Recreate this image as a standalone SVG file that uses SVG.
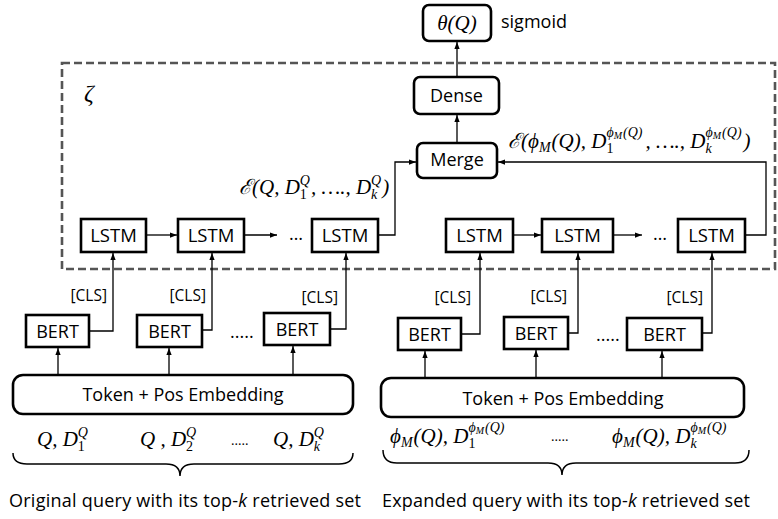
<svg xmlns="http://www.w3.org/2000/svg" width="778" height="519" viewBox="0 0 778 519">
<defs>
<marker id="ah" viewBox="0 0 8 6" refX="8" refY="3" markerWidth="7" markerHeight="5.5" markerUnits="userSpaceOnUse" orient="auto">
<path d="M0,0 L8,3 L0,6 Z" fill="#000"/>
</marker>
<style>
.box{fill:#fff;stroke:#000;stroke-width:2.6}
.t{font-family:"Open Sans","Liberation Sans",sans-serif;font-size:18px;fill:#000}
.tc{text-anchor:middle}
.s{font-size:15.5px}
.l{font-size:18.5px}
.m{font-family:"Liberation Serif","DejaVu Serif",serif;font-style:italic;font-size:21px;fill:#000}
.sm{font-size:14px}
.xs{font-size:10px}
.n{font-style:normal}
.up{font-style:normal;font-size:14px}
.c{fill:none;stroke:#000;stroke-width:1.3;marker-end:url(#ah)}
.dash{fill:none;stroke:#555;stroke-width:2.6;stroke-dasharray:8 4}
.br{fill:none;stroke:#000;stroke-width:1.5}
</style>
</defs>
<rect width="778" height="519" fill="#fff"/>

<rect id="zeta-box" class="dash" x="62" y="63" width="713" height="206"/>
<text class="m" x="84" y="101" style="font-size:24px">ζ</text>

<g id="connectors">
<line class="c" x1="457" y1="77" x2="457" y2="42"/>
<line class="c" x1="457" y1="143" x2="457" y2="115"/>
<path class="c" d="M378,235 H395 V162 H416"/>
<path class="c" d="M745,235 H766 V162 H498"/>
<line class="c" x1="146" y1="235" x2="177" y2="235"/>
<line class="c" x1="244" y1="235" x2="277" y2="235"/>
<line class="c" x1="513" y1="235" x2="541" y2="235"/>
<line class="c" x1="613" y1="235" x2="642" y2="235"/>
<path class="c" d="M89,331 H113 V253"/>
<path class="c" d="M202,330 H212 V253"/>
<path class="c" d="M330,329 H346 V253"/>
<path class="c" d="M461,334 H480 V253"/>
<path class="c" d="M568,333 H578 V253"/>
<path class="c" d="M702,333 H712 V253"/>
<line class="c" x1="58" y1="375" x2="58" y2="348"/>
<line class="c" x1="169" y1="375" x2="169" y2="348"/>
<line class="c" x1="293" y1="375" x2="293" y2="346"/>
<line class="c" x1="425" y1="378" x2="425" y2="351"/>
<line class="c" x1="536" y1="378" x2="536" y2="350"/>
<line class="c" x1="662" y1="378" x2="662" y2="351"/>
</g>

<g id="theta">
<rect class="box" x="423" y="5" width="68" height="36" rx="6"/>
<text class="m tc" x="457" y="30">θ(Q)</text>
</g>
<text id="sigmoid" class="t" x="501" y="28">sigmoid</text>

<g id="dense">
<rect class="box" x="414" y="77" width="85" height="37" rx="6"/>
<text class="t tc" x="456.5" y="102">Dense</text>
</g>
<g id="merge">
<rect class="box" x="417" y="143" width="80" height="35" rx="6"/>
<text class="t tc" x="457" y="166">Merge</text>
</g>

<g id="lstm1"><rect class="box" x="81" y="219" width="65" height="33"/><text class="t l tc" x="113.5" y="242">LSTM</text></g>
<g id="lstm2"><rect class="box" x="178" y="219" width="66" height="33"/><text class="t l tc" x="211" y="242">LSTM</text></g>
<text class="t" x="289" y="240">…</text>
<g id="lstm3"><rect class="box" x="312" y="219" width="66" height="33"/><text class="t l tc" x="345" y="242">LSTM</text></g>
<g id="lstm4"><rect class="box" x="446" y="219" width="67" height="33"/><text class="t l tc" x="479.5" y="242">LSTM</text></g>
<g id="lstm5"><rect class="box" x="542" y="219" width="71" height="33"/><text class="t l tc" x="577.5" y="242">LSTM</text></g>
<text class="t" x="653" y="240">…</text>
<g id="lstm6"><rect class="box" x="678" y="219" width="67" height="33"/><text class="t l tc" x="711.5" y="242">LSTM</text></g>

<text id="lbl-left" class="m" x="239" y="194">ℰ(Q, D<tspan class="sm n" dy="5">1</tspan><tspan class="sm" dx="-7" dy="-14">Q</tspan><tspan dx="1" dy="9">, …., D</tspan><tspan class="sm" dy="5">k</tspan><tspan class="sm" dx="-6.2" dy="-14">Q</tspan><tspan dx="1" dy="9">)</tspan></text>

<text id="lbl-right" class="m" x="508" y="148">ℰ(ϕ<tspan class="sm" dy="4">M</tspan><tspan dx="1" dy="-4">(Q), D</tspan><tspan class="sm n" dy="5">1</tspan><tspan class="sm" dx="-7" dy="-16">ϕ</tspan><tspan class="xs" dy="2">M</tspan><tspan class="sm" dx="1" dy="-2">(Q)</tspan><tspan dx="3" dy="11">, …., D</tspan><tspan class="sm" dy="5">k</tspan><tspan class="sm" dx="-6.2" dy="-16">ϕ</tspan><tspan class="xs" dy="2">M</tspan><tspan class="sm" dx="1" dy="-2">(Q)</tspan><tspan dx="2" dy="11">)</tspan></text>

<text class="t s" x="107" y="301" text-anchor="end">[CLS]</text>
<text class="t s" x="206" y="301" text-anchor="end">[CLS]</text>
<text class="t s" x="338" y="303" text-anchor="end">[CLS]</text>
<text class="t s" x="471" y="303" text-anchor="end">[CLS]</text>
<text class="t s" x="567" y="302" text-anchor="end">[CLS]</text>
<text class="t s" x="703" y="303" text-anchor="end">[CLS]</text>

<g id="bert1"><rect class="box" x="26" y="315" width="63" height="32"/><text class="t tc" x="57.5" y="338">BERT</text></g>
<g id="bert2"><rect class="box" x="137" y="315" width="65" height="32"/><text class="t tc" x="169.5" y="338">BERT</text></g>
<text class="t" x="230" y="338">.....</text>
<g id="bert3"><rect class="box" x="264" y="313" width="66" height="32"/><text class="t tc" x="297" y="336">BERT</text></g>
<g id="bert4"><rect class="box" x="398" y="318" width="63" height="32"/><text class="t tc" x="429.5" y="341">BERT</text></g>
<g id="bert5"><rect class="box" x="504" y="317" width="64" height="32"/><text class="t tc" x="536" y="340">BERT</text></g>
<text class="t" x="596" y="341">.....</text>
<g id="bert6"><rect class="box" x="627" y="318" width="75" height="32"/><text class="t tc" x="664.5" y="341">BERT</text></g>

<g id="emb-left"><rect class="box" x="13" y="375" width="340" height="39" rx="10"/><text class="t tc" x="183" y="401">Token + Pos Embedding</text></g>
<g id="emb-right"><rect class="box" x="381" y="378" width="363" height="39" rx="10"/><text class="t tc" x="563" y="405">Token + Pos Embedding</text></g>

<text id="in-left" class="m" y="446"><tspan x="37" y="446">Q, D</tspan><tspan class="sm n" y="451">1</tspan><tspan class="sm" dx="-7" y="437">Q</tspan><tspan x="140" y="446">Q , D</tspan><tspan class="sm n" y="451">2</tspan><tspan class="sm" dx="-7" y="437">Q</tspan><tspan class="up" x="231" y="445">.....</tspan><tspan x="273" y="446">Q, D</tspan><tspan class="sm" y="451">k</tspan><tspan class="sm" dx="-6.2" y="437">Q</tspan></text>

<text id="in-right" class="m" y="443"><tspan x="390" y="443">ϕ</tspan><tspan class="sm" y="447">M</tspan><tspan dx="1" y="443">(Q), D</tspan><tspan class="sm n" y="448">1</tspan><tspan class="sm" dx="-7" y="432">ϕ</tspan><tspan class="xs" y="434">M</tspan><tspan class="sm" dx="1" y="432">(Q)</tspan><tspan class="up" x="551" y="441">.....</tspan><tspan x="612" y="443">ϕ</tspan><tspan class="sm" y="447">M</tspan><tspan dx="1" y="443">(Q), D</tspan><tspan class="sm" y="448">k</tspan><tspan class="sm" dx="-6.2" y="432">ϕ</tspan><tspan class="xs" y="434">M</tspan><tspan class="sm" dx="1" y="432">(Q)</tspan></text>

<path class="br" d="M13,453 Q13,464 27,464 H166 Q180,464 180,476 Q180,464 194,464 H339 Q353,464 353,453"/>
<path class="br" d="M383,450 Q383,463 397,463 H548 Q562,463 562,475 Q562,463 576,463 H735 Q749,463 749,450"/>

<text class="t" x="9" y="507" textLength="352" lengthAdjust="spacing">Original query with its top-<tspan font-style="italic">k</tspan> retrieved set</text>
<text class="t" x="382" y="507" textLength="368" lengthAdjust="spacing">Expanded query with its top-<tspan font-style="italic">k</tspan> retrieved set</text>
</svg>
